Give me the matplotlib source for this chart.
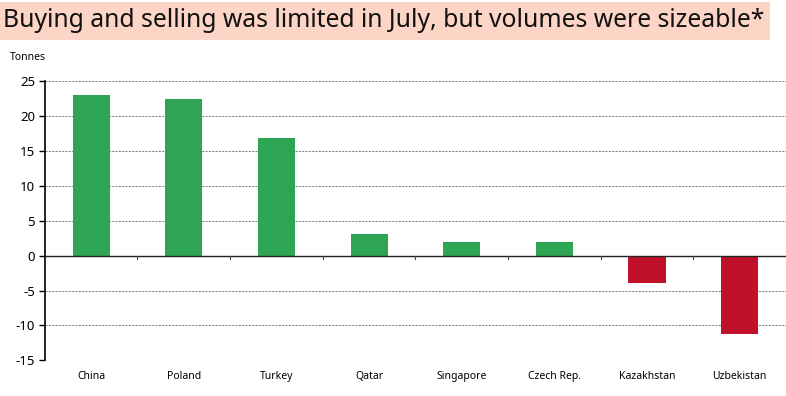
import matplotlib.pyplot as plt
import numpy as np
from matplotlib.patches import Rectangle

# 데이터
countries = ["China", "Poland", "Turkey", "Qatar", "Singapore", "Czech Rep.", "Kazakhstan", "Uzbekistan"]
tonnes = [23.0, 22.4, 16.8, 3.1, 2.0, 1.9, -3.9, -11.2]
y_ticks = [-15, -10, -5, 0, 5, 10, 15, 20, 25]

plt.rcParams['font.family'] = ['Noto Sans', 'DejaVu Sans']

fig = plt.figure(figsize=(7.86, 3.96), dpi=100)
ax = fig.add_axes([0.057, 0.09, 0.943, 0.705])

x = np.arange(len(countries))
colors = ['#2ea552' if v >= 0 else '#c0112a' for v in tonnes]
ax.bar(x, tonnes, width=0.4, color=colors, zorder=3)

ax.set_xlim(-0.5, len(countries) - 0.5)
ax.set_ylim(-15, 25)
ax.set_yticks(y_ticks)
ax.set_yticklabels([str(t) for t in y_ticks], fontsize=9.5)
ax.grid(axis='y', linestyle=(0, (2.5, 1.5)), color='#666666', linewidth=0.6, zorder=0)

for s in ['top', 'right', 'bottom']:
    ax.spines[s].set_visible(False)
ax.spines['left'].set_linewidth(1.2)
ax.tick_params(axis='y', length=4, width=1, pad=3)

# 0 선과 카테고리 경계 눈금
ax.axhline(0, color='#222222', linewidth=1.0, zorder=4)
ax.set_xticks(x)
ax.set_xticklabels(countries, fontsize=7.5)
ax.tick_params(axis='x', length=0, pad=8)
for b in np.arange(0.5, len(countries) - 0.5, 1):
    ax.plot([b, b], [0, -0.5], color='#444444', linewidth=0.8, zorder=4)

# 제목
fig.patches.append(Rectangle((0.0, 0.9), 0.98, 0.095, transform=fig.transFigure,
                             facecolor='#fdd5c6', edgecolor='none', zorder=0))
fig.text(0.004, 0.948, "Buying and selling was limited in July, but volumes were sizeable*",
         fontsize=17.8, va='center', ha='left', color='#111111')
fig.text(0.013, 0.856, "Tonnes", fontsize=7.5, va='center', ha='left')

plt.savefig("out.png", dpi=100)
